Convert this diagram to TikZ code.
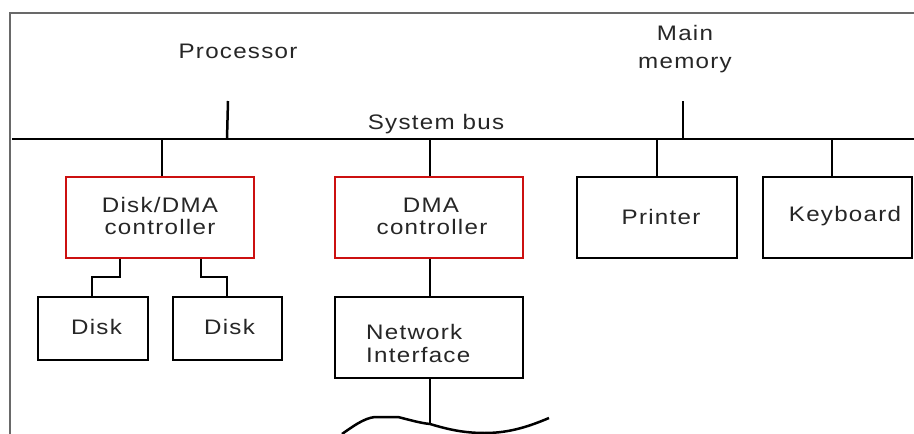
\documentclass[tikz,border=0pt]{standalone}
\usepackage{fontspec}
\setmainfont{Liberation Sans}[FakeStretch=1.15,LetterSpace=6]
\definecolor{boxred}{RGB}{204,16,16}
\definecolor{framegray}{RGB}{105,105,105}
\begin{document}
\begin{tikzpicture}[x=1pt,y=-1pt,
  line/.style={line width=2.5pt,black},
  box/.style={draw=black,line width=2.5pt,inner sep=0pt},
  redbox/.style={draw=boxred,line width=2.5pt,inner sep=0pt},
  lbl/.style={anchor=base,inner sep=0pt,font=\fontsize{21}{23}\selectfont,text=black!85}]
\useasboundingbox (0,0) rectangle (914,434);
\draw[framegray,line width=1.5pt] (10,434) -- (10,13) -- (914,13);
% bus
\coordinate (busL) at (12,139);
\coordinate (busR) at (914,139);
\draw[line] (busL) -- (busR);
% labels on top
\node[lbl] (proc) at (238,58) {Processor};
\node[lbl] (sysbus) at (436,129) {System bus};
\node[lbl] (mainA) at (685,40) {Main};
\node[lbl] (mainB) at (685,68) {memory};
\coordinate (procT) at (228,101);
\coordinate (procB) at (227,139);
\draw[line] (procT) -- (procB);
\coordinate (memT) at (683,101);
\coordinate (memB) at (683,139);
\draw[line] (memT) -- (memB);
% boxes
\node[redbox,minimum width=188pt,minimum height=81pt] (dctl) at (160,217.5) {};
\node[redbox,minimum width=188pt,minimum height=81pt] (dma) at (429,217.5) {};
\node[box,minimum width=160pt,minimum height=81pt] (prn) at (657,217.5) {};
\node[box,minimum width=149pt,minimum height=81pt] (kbd) at (837.5,217.5) {};
\node[box,minimum width=110pt,minimum height=63pt] (disk1) at (93,328.5) {};
\node[box,minimum width=109pt,minimum height=63pt] (disk2) at (227.5,328.5) {};
\node[box,minimum width=188pt,minimum height=81pt] (net) at (429,337.5) {};
% box texts
\node[lbl] (dctlA) at (160,212) {Disk/DMA};
\node[lbl] (dctlB) at (160,234) {controller};
\node[lbl] (dmaA) at (431,212) {DMA};
\node[lbl] (dmaB) at (432,234) {controller};
\node[lbl] (prnT) at (661,224) {Printer};
\node[lbl] (kbdT) at (845,221) {Keyboard};
\node[lbl] (d1T) at (96.5,334) {Disk};
\node[lbl] (d2T) at (229.5,334) {Disk};
\node[lbl,anchor=base west] (netA) at (366,339) {Network};
\node[lbl,anchor=base west] (netB) at (366,362) {Interface};
% connectors from bus
\draw[line] (162,139) -- (dctl.north -| 162,0);
\draw[line] (430,139) -- (dma.north -| 430,0);
\draw[line] (657,139) -- (prn.north);
\draw[line] (832,139) -- (kbd.north -| 832,0);
% disk connectors
\draw[line] (dctl.south -| 120,0) -- (120,277) -- (92,277) -- (disk1.north -| 92,0);
\draw[line] (dctl.south -| 201,0) -- (201,277) -- (227,277) -- (disk2.north -| 227,0);
% dma to network
\draw[line] (dma.south -| 430,0) -- (net.north -| 430,0);
% network line
\coordinate (netJ) at (430,424);
\draw[line] (net.south -| 430,0) -- (netJ);
\draw[line,line join=round] (342,434) .. controls (352,427) and (364,418) .. (375,417)
  -- (398,417) .. controls (410,420) and (420,423) .. (netJ)
  .. controls (450,430) and (465,433) .. (485,433)
  .. controls (510,433) and (530,426) .. (549,418);
\end{tikzpicture}
\end{document}
